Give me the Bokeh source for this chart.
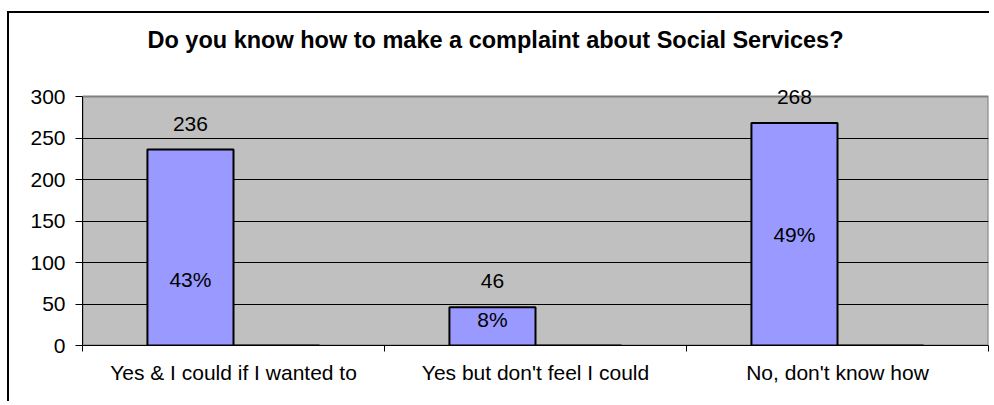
from bokeh.plotting import figure
from bokeh.models import (Range1d, FixedTicker, ColumnDataSource, LabelSet,
                          BoxAnnotation, Label)
from bokeh.core.properties import value
from bokeh.embed import file_html
from bokeh.resources import INLINE

categories = ["Yes & I could if I wanted to", "Yes but don't feel I could", "No, don't know how"]
counts = [236, 46, 268]
second_series = [0, 0, 0]
pct_labels = ["43%", "8%", "49%"]
pct_label_y = [79, 31, 134]
y_ticks = [0, 50, 100, 150, 200, 250, 300]
y_max = 300
title_text = "Do you know how to make a complaint about Social Services?"

FONT = "Liberation Sans"
FS = "21px"
bar_w = 0.285
centers = [i + 0.5 for i in range(len(categories))]
bounds = list(range(len(categories) + 1))
x1 = [c - bar_w / 2 for c in centers]
x2 = [c + bar_w / 2 for c in centers]

# the frame reaches up to the top of the chart area; the grey plot area is 0..300
p = figure(width=982, height=390,
           x_range=Range1d(0, len(categories)), y_range=Range1d(0, 400),
           output_backend="svg", toolbar_location=None,
           min_border_left=73, min_border_right=3,
           min_border_top=0, min_border_bottom=58)
p.styles = {"border-left": "2px solid black", "border-top": "2px solid black",
            "margin-top": "11px", "margin-left": "7px"}

p.background_fill_color = "white"
p.border_fill_color = "white"
p.outline_line_color = None

# grey plot area with its border
p.add_layout(BoxAnnotation(bottom=0, top=y_max, fill_color="#C0C0C0", fill_alpha=1,
                           line_color="#808080", line_alpha=1, line_width=2,
                           level="image"))

# title
p.add_layout(Label(x=1.3675, y=367.5, text=title_text, text_align="center",
                   text_baseline="middle", text_font=FONT,
                   text_font_size="23.5px", text_font_style="bold", text_color="black"))

# y axis
p.yaxis.ticker = FixedTicker(ticks=y_ticks)
p.yaxis.bounds = (0, y_max)
p.yaxis.axis_line_color = "black"
p.yaxis.major_tick_line_color = "black"
p.yaxis.major_tick_out = 7
p.yaxis.major_tick_in = 0
p.yaxis.minor_tick_line_color = None
p.yaxis.major_label_standoff = 10
p.yaxis.major_label_text_font = FONT
p.yaxis.major_label_text_font_size = FS
p.yaxis.major_label_text_color = "black"

p.ygrid.ticker = FixedTicker(ticks=y_ticks[1:-1])
p.ygrid.grid_line_color = "black"
p.ygrid.grid_line_width = 1
p.xgrid.grid_line_color = None

# x axis: labels at category centres, tick marks at category boundaries
p.xaxis.ticker = FixedTicker(ticks=centers, minor_ticks=bounds)
p.xaxis.major_label_overrides = {c: n for c, n in zip(centers, categories)}
p.xaxis.axis_line_color = "black"
p.xaxis.axis_line_width = 1
p.xaxis.major_tick_line_color = None
p.xaxis.major_tick_out = 0
p.xaxis.major_tick_in = 0
p.xaxis.minor_tick_line_color = "black"
p.xaxis.minor_tick_out = 6
p.xaxis.minor_tick_in = 0
p.xaxis.major_label_standoff = 9
p.xaxis.major_label_text_font = FONT
p.xaxis.major_label_text_font_size = FS
p.xaxis.major_label_text_color = "black"

# bars
p.vbar(x=x1, top=counts, bottom=0, width=bar_w,
       fill_color="#9999FF", line_color="black", line_width=2)
p.vbar(x=x2, top=second_series, bottom=0, width=bar_w,
       fill_color="#993366", line_color="black", line_width=2)

# value labels
src = ColumnDataSource(dict(x=x1, top=counts, txt=[str(v) for v in counts],
                            py=pct_label_y, ptxt=pct_labels))
p.add_layout(LabelSet(x="x", y="top", text="txt", source=src, y_offset=26,
                      text_align="center", text_baseline="middle",
                      text_font=value(FONT), text_font_size=FS, text_color="black"))
p.add_layout(LabelSet(x="x", y="py", text="ptxt", source=src,
                      text_align="center", text_baseline="middle",
                      text_font=value(FONT), text_font_size=FS, text_color="black"))

open("out.html", "w").write(file_html(p, INLINE))
